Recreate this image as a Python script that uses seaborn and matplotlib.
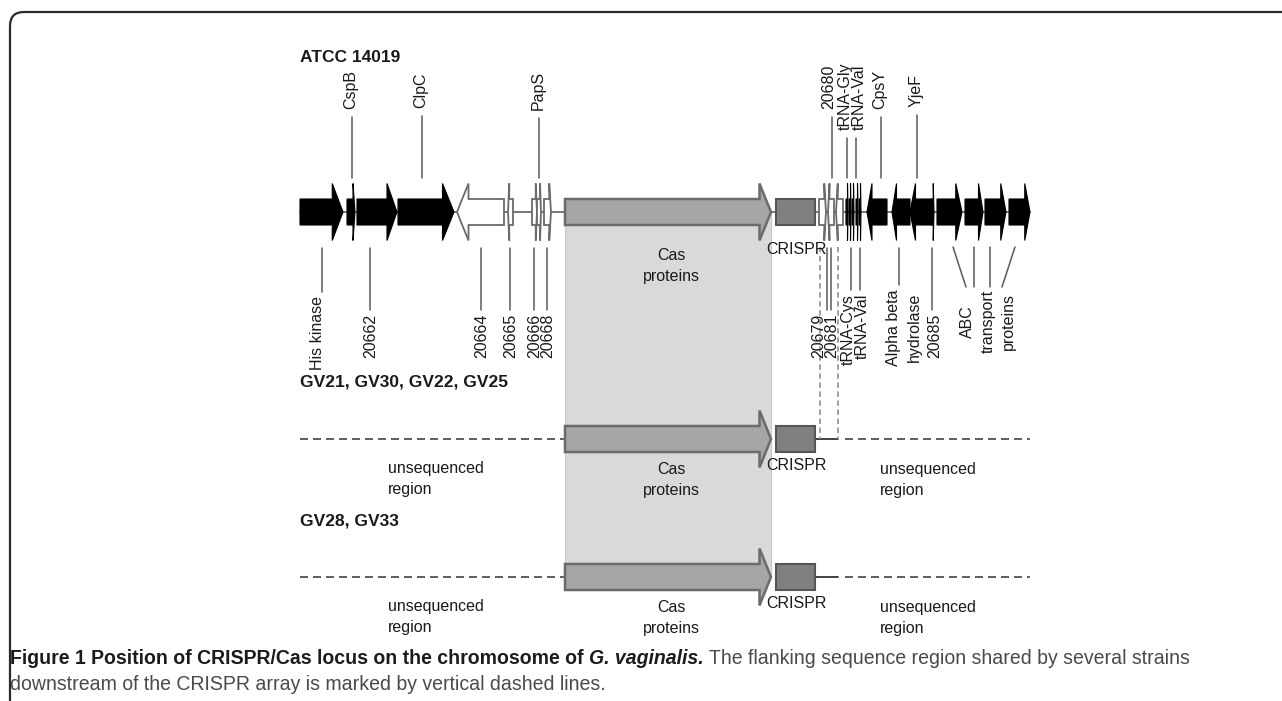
import matplotlib
matplotlib.use("Agg")
import matplotlib.pyplot as plt
from matplotlib.patches import Polygon, Rectangle, FancyBboxPatch
import seaborn as sns

sns.set_theme(style="white")
plt.rcParams['font.family'] = ['Liberation Sans', 'DejaVu Sans']

# ---- data: positions along the locus (figure pixels) ----
# ATCC 14019 genes
gene_start = [300, 347, 357, 398, 457, 508, 532, 537, 544, 565, 819, 828, 836,
              846, 849, 852, 856, 859, 867, 892, 910, 931, 937, 965, 985, 1009]
gene_end = [343, 355, 397, 454, 504, 513, 537, 541, 551, 771, 826, 834, 843,
            848, 851, 854, 858, 861, 887, 910, 932, 934, 962, 983, 1006, 1030]
gene_strand = [1, 1, 1, 1, -1, -1, 1, 1, 1, 1, 1, -1, -1,
               1, 1, 1, 1, 1, -1, -1, -1, 1, 1, 1, 1, 1]
gene_kind = ['black'] * 4 + ['white'] * 5 + ['cas'] + ['white'] * 3 + ['black'] * 13

cas_start, cas_end = 565, 771
crispr_start, crispr_end = 776, 815
locus_start, locus_end = 300, 1030
flank_end = 838

strain_names = ["ATCC 14019", "GV21, GV30, GV22, GV25", "GV28, GV33"]

top_labels = ["CspB", "ClpC", "PapS", "20680", "tRNA-Gly", "tRNA-Val", "CpsY", "YjeF"]
top_x = [352, 422, 539, 832, 847, 856, 881, 917]
top_text_x = [351, 421, 538, 829, 845, 859, 880, 916]
top_line_from = [117, 116, 118, 117, 138, 138, 117, 115]

bot_labels = ["His kinase", "20662", "20664", "20665", "20666", "20668",
              "20679", "20681", "tRNA-Cys", "tRNA-Val", "Alpha beta\nhydrolase", "20685"]
bot_line_x = [322, 370, 481, 510, 534, 547, 827, 831, 851, 860, 899, 932]
bot_line_to = [292, 310, 310, 310, 310, 310, 310, 310, 290, 290, 285, 310]
bot_text_x = [317, 371, 482, 511, 535, 548, 819, 832, 848, 862, 904, 935]

abc_label = "ABC\ntransport\nproteins"
abc_top_x = [953, 974, 990, 1015]
abc_bot_x = [966, 974, 990, 1002]

shared_flank_x = [820, 838]

caption_bold = "Figure 1 Position of CRISPR/Cas locus on the chromosome of "
caption_italic = "G. vaginalis."
caption_rest = " The flanking sequence region shared by several strains"
caption_line2 = "downstream of the CRISPR array is marked by vertical dashed lines."

# ---- layout ----
ROW_Y = [212, 439, 577]
TITLE_Y = [57, 382, 521]
H_BODY, H_HEAD = 13, 28.5
TXT = '#1a1a1a'
LINE = '#5a5a5a'

STYLE = {
    'black': dict(fc='black', ec='black', lw=0.8),
    'white': dict(fc='white', ec='#6b6b6b', lw=1.3),
    'cas': dict(fc='#a6a6a6', ec='#6b6b6b', lw=1.8),
}


def gene_poly(s, e, strand, yc):
    L = min(0.25 * (e - s), 11.5)
    if strand > 0:
        b = e - L
        pts = [(s, yc - H_BODY), (b, yc - H_BODY), (b, yc - H_HEAD), (e, yc),
               (b, yc + H_HEAD), (b, yc + H_BODY), (s, yc + H_BODY)]
    else:
        b = s + L
        pts = [(e, yc - H_BODY), (b, yc - H_BODY), (b, yc - H_HEAD), (s, yc),
               (b, yc + H_HEAD), (b, yc + H_BODY), (e, yc + H_BODY)]
    return pts


def draw_gene(ax, s, e, strand, yc, kind):
    ax.add_patch(Polygon(gene_poly(s, e, strand, yc), closed=True, zorder=3,
                         joinstyle='miter', **STYLE[kind]))


def draw_crispr(ax, yc):
    ax.add_patch(Rectangle((crispr_start, yc - H_BODY), crispr_end - crispr_start,
                           2 * H_BODY, fc='#808080', ec='#565656', lw=1.5, zorder=3))


fig = plt.figure(figsize=(12.82, 7.01), dpi=100)
ax = fig.add_axes([0, 0, 1, 1])
ax.set_xlim(0, 1282)
ax.set_ylim(701, 0)
ax.axis('off')

# frame
ax.add_patch(FancyBboxPatch((10, 12), 1320, 760, boxstyle="round,pad=0,rounding_size=14",
                            fill=False, ec='#2b2b2b', lw=1.6, clip_on=False))

# shaded Cas block across strains
ax.add_patch(Rectangle((cas_start, ROW_Y[0]), cas_end - cas_start, ROW_Y[2] - ROW_Y[0],
                       fc='#d9d9d9', ec='#c8c8c8', lw=0.8, zorder=0))

for name, ty in zip(strain_names, TITLE_Y):
    ax.text(300, ty, name, fontsize=12.5, fontweight='bold', color=TXT, va='center', ha='left')

# row 1: full locus
y0 = ROW_Y[0]
ax.plot([locus_start, locus_end], [y0, y0], color='#6b6b6b', lw=1.3, zorder=1)
for s, e, st, k in zip(gene_start, gene_end, gene_strand, gene_kind):
    draw_gene(ax, s, e, st, y0, k)
draw_crispr(ax, y0)

for lab, x, tx, yf in zip(top_labels, top_x, top_text_x, top_line_from):
    ax.plot([x, x], [yf, 178], color=LINE, lw=1.1, zorder=2)
    ax.text(tx, yf - 8, lab, rotation=90, ha='center', va='bottom', fontsize=11.5, color=TXT)

for lab, lx, ly, tx in zip(bot_labels, bot_line_x, bot_line_to, bot_text_x):
    ax.plot([lx, lx], [248, ly], color=LINE, lw=1.1, zorder=2)
    ax.text(tx, ly + 4, lab, rotation=90, ha='center', va='top', fontsize=11.5,
            color=TXT, multialignment='center', linespacing=1.45)

for xt, xb in zip(abc_top_x, abc_bot_x):
    ax.plot([xt, xb], [247, 287], color=LINE, lw=1.1, zorder=2)
ax.text(988, 290, abc_label, rotation=90, ha='center', va='top', fontsize=11.5,
        color=TXT, multialignment='center', linespacing=1.45)

ax.text((cas_start + cas_end) / 2 + 3, 266, "Cas\nproteins", ha='center', va='center',
        fontsize=11.5, color=TXT, linespacing=1.45)
ax.text(796, 250, "CRISPR", ha='center', va='center', fontsize=11.5, color=TXT)

# shared flanking region markers
for x in shared_flank_x:
    ax.plot([x, x], [247, ROW_Y[1]], color='#9a9a9a', lw=1.3, ls=(0, (3, 2)), zorder=2)

# rows 2 and 3: partial sequences
for yc in ROW_Y[1:]:
    ax.plot([locus_start, cas_start], [yc, yc], color='#444444', lw=1.2, ls=(0, (4.8, 3)), zorder=1)
    ax.plot([crispr_end, flank_end], [yc, yc], color='#333333', lw=1.3, zorder=1)
    ax.plot([flank_end + 7, locus_end], [yc, yc], color='#444444', lw=1.2, ls=(0, (4.8, 3)), zorder=1)
    draw_gene(ax, cas_start, cas_end, 1, yc, 'cas')
    draw_crispr(ax, yc)
    ax.text(388, yc + 40, "unsequenced\nregion", ha='left', va='center', fontsize=11.5,
            color=TXT, linespacing=1.45)
    ax.text((cas_start + cas_end) / 2 + 3, yc + 41, "Cas\nproteins", ha='center', va='center',
            fontsize=11.5, color=TXT, linespacing=1.45)
    ax.text(796, yc + 26, "CRISPR", ha='center', va='center', fontsize=11.5, color=TXT)
    ax.text(880, yc + 41, "unsequenced\nregion", ha='left', va='center', fontsize=11.5,
            color=TXT, linespacing=1.45)

# caption
renderer = fig.canvas.get_renderer()
cap_size = 13
probe = ax.text(10, 685, caption_line2, fontsize=cap_size, va='center', ha='left', color='#4a4a4a')
w = probe.get_window_extent(renderer).width
cap_size = cap_size * 593 / w
probe.set_fontsize(cap_size)

x = 10
parts = [(caption_bold, 'bold', 'normal', '#1c1c1c'),
         (caption_italic, 'bold', 'italic', '#1c1c1c'),
         (caption_rest, 'normal', 'normal', '#4a4a4a')]
for txt, fw, fs, col in parts:
    t = ax.text(x, 659, txt, fontsize=cap_size, fontweight=fw, fontstyle=fs,
                va='center', ha='left', color=col)
    bb = t.get_window_extent(renderer)
    x += bb.width

fig.savefig("out.png", dpi=100)
